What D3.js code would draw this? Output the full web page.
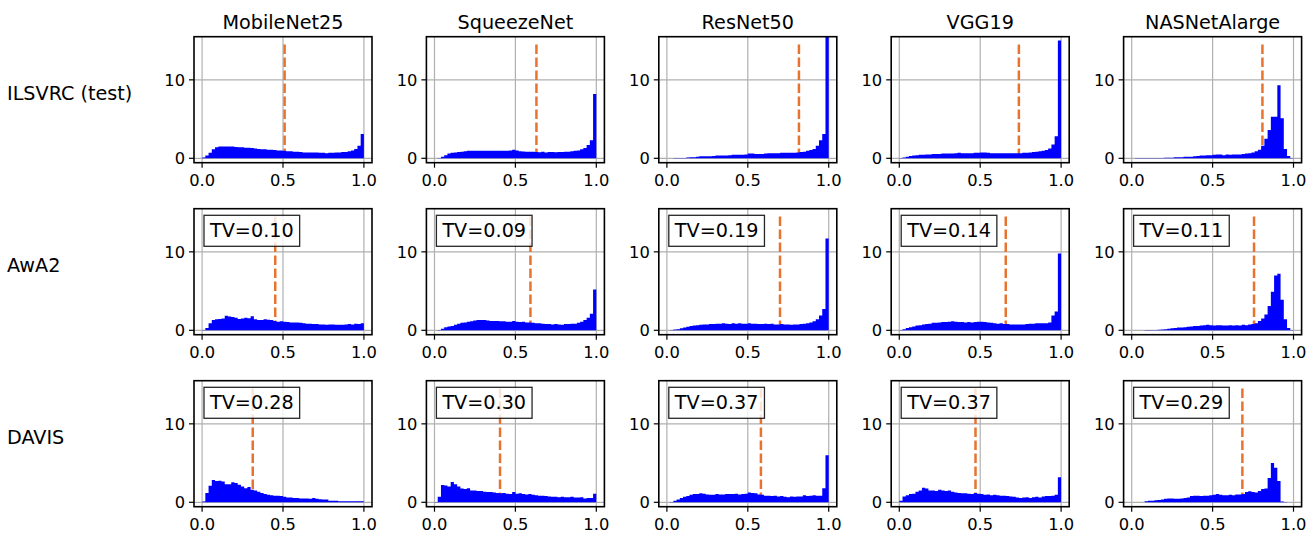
<!DOCTYPE html>
<html>
<head>
<meta charset="utf-8">
<script src="https://cdn.jsdelivr.net/npm/d3@7"></script>
<style>
  body { margin: 0; background: #fff; }
  text { font-family: "DejaVu Sans", sans-serif; fill: #000; }
</style>
</head>
<body>
<svg id="chart"></svg>
<script>
// columns / rows of the grid
const models = ["MobileNet25", "SqueezeNet", "ResNet50", "VGG19", "NASNetAlarge"];
const datasets = ["ILSVRC (test)", "AwA2", "DAVIS"];

// total variation shown in the boxes (no box for the first row)
const tvAwA2 = [0.10, 0.09, 0.19, 0.14, 0.11];
const tvDAVIS = [0.28, 0.30, 0.37, 0.37, 0.29];

// position of the dashed orange line in each panel
const meanILSVRC = [0.51, 0.63, 0.816, 0.739, 0.808];
const meanAwA2 = [0.452, 0.593, 0.699, 0.658, 0.756];
const meanDAVIS = [0.313, 0.405, 0.581, 0.471, 0.684];

const xTicks = [0, 0.5, 1.0];
const yTicks = [0, 10];
const nBins = 50;

// histogram densities, 50 bins over [0, 1], one list per model
const histILSVRC = [
  [0.1, 0.35, 0.7, 1.15, 1.4, 1.5, 1.5, 1.5, 1.5, 1.5, 1.45, 1.4, 1.4, 1.35, 1.35, 1.3, 1.25, 1.2, 1.15, 1.15,
   1.1, 1.1, 1.05, 1.0, 1.0, 0.95, 0.9, 0.9, 0.85, 0.85, 0.8, 0.75, 0.75, 0.75, 0.75, 0.75, 0.72, 0.7, 0.65, 0.7,
   0.72, 0.75, 0.75, 0.8, 0.8, 0.9, 1.0, 1.2, 1.6, 3.1],
  [0.02, 0.05, 0.2, 0.4, 0.6, 0.7, 0.75, 0.8, 0.85, 0.9, 0.95, 0.95, 0.95, 0.95, 0.95, 0.95, 0.95, 0.95, 0.95, 0.95,
   0.95, 0.95, 0.95, 1.0, 1.1, 1.0, 0.9, 0.88, 0.85, 0.85, 0.85, 0.8, 0.78, 0.85, 0.75, 0.8, 0.8, 0.78, 0.8, 0.8,
   0.85, 0.85, 0.9, 0.95, 1.0, 1.15, 1.3, 1.7, 2.3, 8.2],
  [0.02, 0.02, 0.05, 0.05, 0.05, 0.05, 0.1, 0.15, 0.15, 0.2, 0.25, 0.25, 0.25, 0.25, 0.3, 0.35, 0.35, 0.35, 0.35, 0.4,
   0.45, 0.45, 0.45, 0.45, 0.5, 0.6, 0.6, 0.55, 0.55, 0.55, 0.6, 0.65, 0.65, 0.65, 0.65, 0.7, 0.7, 0.7, 0.7, 0.7,
   0.75, 0.8, 0.85, 0.95, 1.05, 1.2, 1.6, 2.3, 3.1, 20],
  [0.05, 0.1, 0.2, 0.3, 0.35, 0.4, 0.45, 0.45, 0.5, 0.5, 0.55, 0.55, 0.55, 0.6, 0.6, 0.6, 0.6, 0.65, 0.7, 0.65,
   0.65, 0.65, 0.65, 0.7, 0.7, 0.75, 0.75, 0.7, 0.65, 0.65, 0.65, 0.65, 0.65, 0.65, 0.65, 0.65, 0.65, 0.65, 0.7, 0.7,
   0.75, 0.8, 0.85, 0.9, 0.95, 1.05, 1.25, 1.75, 2.8, 15.0],
  [0.02, 0.03, 0.03, 0.03, 0.03, 0.04, 0.04, 0.05, 0.05, 0.05, 0.06, 0.07, 0.08, 0.15, 0.15, 0.15, 0.2, 0.2, 0.2, 0.25,
   0.3, 0.35, 0.35, 0.4, 0.4, 0.45, 0.5, 0.5, 0.4, 0.5, 0.45, 0.5, 0.5, 0.5, 0.55, 0.6, 0.65, 0.75, 0.9, 1.1,
   1.6, 2.5, 3.6, 5.3, 5.3, 9.3, 5.1, 1.2, 0.3, 0.05]
];
const histAwA2 = [
  [0.05, 0.3, 0.9, 1.3, 1.4, 1.45, 1.5, 1.85, 1.75, 1.7, 1.6, 1.45, 1.5, 1.6, 1.55, 1.8, 1.4, 1.3, 1.3, 1.4,
   1.35, 1.3, 1.2, 1.1, 1.15, 1.1, 1.05, 1.0, 1.0, 1.0, 0.95, 0.9, 0.85, 0.85, 0.8, 0.8, 0.75, 0.75, 0.7, 0.75,
   0.75, 0.7, 0.7, 0.7, 0.75, 0.8, 0.75, 0.85, 0.8, 0.9],
  [0.02, 0.05, 0.2, 0.4, 0.5, 0.55, 0.7, 0.85, 0.95, 1.0, 1.1, 1.15, 1.25, 1.3, 1.3, 1.3, 1.25, 1.2, 1.2, 1.2,
   1.15, 1.15, 1.1, 1.1, 1.2, 1.1, 1.05, 1.1, 1.0, 1.0, 0.95, 0.9, 0.9, 0.85, 0.8, 0.8, 0.75, 0.8, 0.75, 0.7,
   0.8, 0.8, 0.85, 0.85, 0.95, 1.1, 1.3, 1.6, 2.1, 5.2],
  [0.02, 0.05, 0.1, 0.15, 0.25, 0.35, 0.45, 0.55, 0.6, 0.65, 0.7, 0.75, 0.75, 0.8, 0.8, 0.85, 0.85, 0.9, 0.85, 0.8,
   0.9, 0.85, 0.9, 0.85, 0.85, 0.9, 0.85, 0.85, 0.8, 0.8, 0.85, 0.8, 0.85, 0.75, 0.75, 0.8, 0.75, 0.75, 0.7, 0.75,
   0.75, 0.8, 0.85, 0.9, 1.0, 1.15, 1.4, 1.9, 2.7, 11.7],
  [0.05, 0.15, 0.3, 0.4, 0.5, 0.6, 0.65, 0.75, 0.8, 0.85, 0.95, 0.95, 1.0, 1.05, 1.05, 1.1, 1.15, 1.1, 1.05, 1.05,
   1.0, 1.05, 1.0, 1.05, 1.1, 1.1, 1.05, 1.0, 0.95, 0.9, 0.85, 0.9, 0.8, 0.8, 0.75, 0.75, 0.75, 0.75, 0.75, 0.8,
   0.85, 0.85, 0.9, 0.9, 0.9, 0.9, 1.0, 1.9, 2.4, 9.8],
  [0.01, 0.02, 0.02, 0.02, 0.03, 0.03, 0.04, 0.05, 0.08, 0.1, 0.15, 0.2, 0.25, 0.3, 0.35, 0.35, 0.4, 0.45, 0.5, 0.55,
   0.55, 0.6, 0.65, 0.7, 0.65, 0.6, 0.65, 0.65, 0.6, 0.6, 0.65, 0.6, 0.65, 0.6, 0.7, 0.65, 0.75, 0.8, 0.9, 1.2,
   1.5, 2.0, 3.1, 4.9, 7.0, 7.2, 3.9, 1.4, 0.3, 0.05]
];
const histDAVIS = [
  [0.1, 1.2, 2.1, 2.85, 2.7, 2.75, 2.65, 2.3, 2.3, 2.55, 2.45, 2.25, 2.0, 1.8, 1.95, 1.6, 1.5, 1.35, 1.2, 1.05,
   0.95, 0.9, 0.85, 0.85, 0.8, 0.7, 0.6, 0.6, 0.55, 0.55, 0.5, 0.5, 0.5, 0.45, 0.55, 0.45, 0.4, 0.35, 0.35, 0.2,
   0.2, 0.2, 0.15, 0.15, 0.15, 0.15, 0.15, 0.15, 0.15, 0.15],
  [0.05, 0.7, 2.2, 2.15, 2.0, 2.6, 2.3, 2.0, 1.75, 1.7, 1.8, 1.5, 1.5, 1.45, 1.45, 1.35, 1.3, 1.3, 1.25, 1.2,
   1.15, 1.2, 1.1, 1.05, 1.3, 1.1, 1.15, 1.05, 1.0, 1.05, 0.95, 0.9, 0.85, 0.85, 0.8, 0.75, 0.7, 0.7, 0.65, 0.7,
   0.65, 0.65, 0.7, 0.6, 0.6, 0.65, 0.5, 0.55, 0.55, 1.1],
  [0.02, 0.05, 0.2, 0.35, 0.55, 0.7, 0.8, 0.95, 1.05, 1.05, 1.15, 1.1, 1.0, 0.95, 0.95, 1.05, 1.0, 1.0, 1.05, 1.05,
   1.05, 1.1, 1.0, 1.05, 1.1, 1.25, 1.2, 1.15, 1.0, 0.95, 0.85, 0.85, 0.8, 0.85, 0.75, 0.8, 0.7, 0.65, 0.75, 0.7,
   0.75, 0.75, 0.9, 0.8, 0.85, 0.9, 0.85, 0.85, 1.8, 6.0],
  [0.2, 0.75, 0.9, 1.05, 1.1, 1.35, 1.5, 1.85, 1.75, 1.5, 1.5, 1.45, 1.6, 1.5, 1.45, 1.5, 1.35, 1.25, 1.2, 1.15,
   1.15, 1.1, 1.05, 1.2, 1.1, 1.05, 0.95, 1.0, 0.9, 0.95, 0.9, 0.85, 0.85, 0.8, 0.75, 0.7, 0.6, 0.55, 0.6, 0.65,
   0.55, 0.65, 0.7, 0.6, 0.75, 0.8, 0.8, 0.85, 0.95, 3.2],
  [0.01, 0.01, 0.02, 0.02, 0.15, 0.2, 0.2, 0.25, 0.3, 0.35, 0.45, 0.5, 0.5, 0.45, 0.45, 0.5, 0.55, 0.6, 0.8, 0.85,
   0.85, 0.8, 0.85, 0.85, 0.9, 0.95, 1.05, 0.95, 0.9, 0.9, 0.95, 0.9, 1.0, 1.0, 1.05, 1.3, 1.4, 1.3, 1.25, 1.45,
   1.7, 1.75, 3.1, 5.0, 4.4, 2.7, 0.1, 0.05, 0.02, 0.02]
];

const rows = [
  { label: datasets[0], hist: histILSVRC, mean: meanILSVRC, tv: null },
  { label: datasets[1], hist: histAwA2, mean: meanAwA2, tv: tvAwA2 },
  { label: datasets[2], hist: histDAVIS, mean: meanDAVIS, tv: tvDAVIS }
];

const W = 1307, H = 533;
const panelW = 178, panelH = 126;
const left0 = 194, colStep = 232.4;
const top0 = 36.7, rowStep = 172;
const dashLineTop = 14.5;

const svg = d3.select("#chart").attr("width", W).attr("height", H);

const x = d3.scaleLinear().domain([-0.05, 1.05]).range([0, panelW]);
const y = d3.scaleLinear().domain([-0.56, 15.5]).range([panelH, 0]);

const area = d3.area()
  .curve(d3.curveStepAfter)
  .x(d => x(d[0]))
  .y0(y(0))
  .y1(d => y(d[1]));

rows.forEach((row, r) => {
  const top = top0 + r * rowStep;

  // row label on the left
  svg.append("text")
    .attr("x", 7)
    .attr("y", top + panelH / 2 + 0.5)
    .attr("font-size", 19.2)
    .text(row.label);

  models.forEach((model, c) => {
    const left = left0 + c * colStep;
    const g = svg.append("g").attr("transform", `translate(${left},${top})`);
    const clipId = `clip-${r}-${c}`;
    g.append("clipPath").attr("id", clipId)
      .append("rect").attr("width", panelW).attr("height", panelH);

    const plot = g.append("g").attr("clip-path", `url(#${clipId})`);

    // grid
    plot.selectAll(".gx").data(xTicks).join("line")
      .attr("x1", d => x(d)).attr("x2", d => x(d))
      .attr("y1", 0).attr("y2", panelH)
      .attr("stroke", "#b0b0b0").attr("stroke-width", 1.2);
    plot.selectAll(".gy").data(yTicks).join("line")
      .attr("y1", d => y(d)).attr("y2", d => y(d))
      .attr("x1", 0).attr("x2", panelW)
      .attr("stroke", "#b0b0b0").attr("stroke-width", 1.2);

    // dashed line (bars are drawn over it)
    const m = row.mean[c];
    plot.append("line")
      .attr("x1", x(m)).attr("x2", x(m))
      .attr("y1", y(dashLineTop)).attr("y2", y(0))
      .attr("stroke", "#e8732f").attr("stroke-width", 2.5)
      .attr("stroke-dasharray", "9.5,3.5");

    // histogram
    const vals = row.hist[c];
    const pts = vals.map((v, i) => [i / nBins, v]);
    pts.push([1, vals[vals.length - 1]]);
    plot.append("path")
      .attr("d", area(pts))
      .attr("fill", "#0000ff");

    // frame
    g.append("rect")
      .attr("width", panelW).attr("height", panelH)
      .attr("fill", "none").attr("stroke", "#000").attr("stroke-width", 1.6);

    // y ticks
    yTicks.forEach(t => {
      g.append("line")
        .attr("x1", -5).attr("x2", 0)
        .attr("y1", y(t)).attr("y2", y(t))
        .attr("stroke", "#000").attr("stroke-width", 1.2);
      g.append("text")
        .attr("x", -9).attr("y", y(t)).attr("dy", "0.36em")
        .attr("text-anchor", "end").attr("font-size", 16.3)
        .text(t);
    });

    // x ticks
    xTicks.forEach(t => {
      g.append("line")
        .attr("x1", x(t)).attr("x2", x(t))
        .attr("y1", panelH).attr("y2", panelH + 5)
        .attr("stroke", "#000").attr("stroke-width", 1.2);
      g.append("text")
        .attr("x", x(t)).attr("y", panelH + 23)
        .attr("text-anchor", "middle").attr("font-size", 16.3)
        .text(d3.format(".1f")(t));
    });

    // column titles
    if (r === 0) {
      g.append("text")
        .attr("x", panelW / 2).attr("y", -7.7)
        .attr("text-anchor", "middle").attr("font-size", 19.2)
        .text(model);
    }

    // TV box
    if (row.tv) {
      const box = g.append("rect")
        .attr("x", 10).attr("y", 6.6).attr("height", 31)
        .attr("fill", "#fff").attr("fill-opacity", 0.8)
        .attr("stroke", "#000").attr("stroke-opacity", 0.85).attr("stroke-width", 1.3);
      const txt = g.append("text")
        .attr("x", 16).attr("y", 28)
        .attr("font-size", 19.2)
        .text("TV=" + d3.format(".2f")(row.tv[c]));
      box.attr("width", txt.node().getComputedTextLength() + 12);
    }
  });
});
</script>
</body>
</html>
